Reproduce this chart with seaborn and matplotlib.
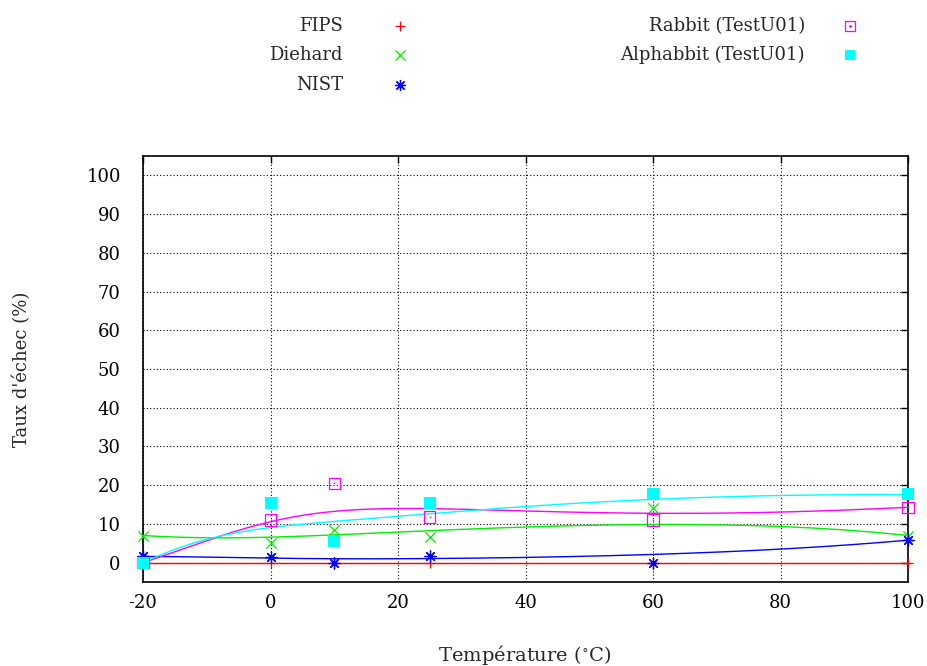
import numpy as np
import pandas as pd
import matplotlib
matplotlib.use("Agg")
import matplotlib.pyplot as plt
import seaborn as sns
from matplotlib.lines import Line2D
from math import comb

temperatures = [-20, 0, 10, 25, 60, 100]
fips = [0, 0, 0, 0, 0, 0]
diehard = [7, 5, 8.3, 6.7, 14, 7]
nist = [1.6, 1.5, 0, 1.8, 0, 5.8]
rabbit = [0, 11, 20.5, 11.8, 11, 14.3]
alphabbit = [0, 15.5, 5.7, 15.5, 17.6, 17.6]

series_names = ["FIPS", "Diehard", "NIST", "Rabbit (TestU01)", "Alphabbit (TestU01)"]
series_values = [fips, diehard, nist, rabbit, alphabbit]
colors = ["#ff0000", "#00ee00", "#0000ff", "#ff00ff", "#00ffff"]

x_ticks = [-20, 0, 20, 40, 60, 80, 100]
y_ticks = [0, 10, 20, 30, 40, 50, 60, 70, 80, 90, 100]

sns.set_style("white")
plt.rcParams['font.family'] = ['DejaVu Serif']
plt.rcParams['mathtext.fontset'] = 'dejavuserif'

fig = plt.figure(figsize=(9.27, 6.66), dpi=100)
ax = fig.add_axes([143/927, 1-582/666, (908-143)/927, (582-156)/666])

def bezier(xs, ys, n=200):
    xs = np.asarray(xs, float); ys = np.asarray(ys, float)
    m = len(xs) - 1
    t = np.linspace(0, 1, n)
    bx = np.zeros_like(t); by = np.zeros_like(t)
    for i in range(m + 1):
        b = comb(m, i) * (1 - t) ** (m - i) * t ** i
        bx += b * xs[i]; by += b * ys[i]
    return bx, by

df = pd.DataFrame({"T": temperatures})
for name, vals in zip(series_names, series_values):
    df[name] = vals

for name, col in zip(series_names, colors):
    bx, by = bezier(df["T"], df[name])
    sns.lineplot(x=bx, y=by, ax=ax, color=col, lw=1.0, sort=False, estimator=None, zorder=3)

sns.scatterplot(data=df, x="T", y="FIPS", ax=ax, marker="+", color=colors[0], linewidth=0.9, s=55, zorder=4)
sns.scatterplot(data=df, x="T", y="Diehard", ax=ax, marker="x", color=colors[1], linewidth=0.9, s=55, zorder=4)
sns.scatterplot(data=df, x="T", y="NIST", ax=ax, marker=(8, 2, 0), color=colors[2], linewidth=0.9, s=65, zorder=4)
sns.scatterplot(data=df, x="T", y="Rabbit (TestU01)", ax=ax, marker="s", facecolor="none", edgecolor=colors[3], linewidth=0.9, s=65, zorder=4)
sns.scatterplot(data=df, x="T", y="Rabbit (TestU01)", ax=ax, marker=".", color=colors[3], linewidth=0, s=5, zorder=4)
sns.scatterplot(data=df, x="T", y="Alphabbit (TestU01)", ax=ax, marker="s", color=colors[4], linewidth=0, s=70, zorder=4)
for coll in ax.collections:
    coll.set_clip_on(False)

ax.set_xlim(-20, 100)
ax.set_ylim(-5, 105)
ax.set_xticks(x_ticks)
ax.set_yticks(y_ticks)
ax.set_xticklabels([str(v) for v in x_ticks])
ax.set_yticklabels([str(v) for v in y_ticks])
ax.grid(True, color="black", linestyle=(0, (1, 2)), linewidth=0.8)
ax.tick_params(direction="in", length=5, width=1, top=True, right=True, labelsize=13, colors="black")
ax.tick_params(axis="y", pad=16)
ax.tick_params(axis="x", pad=9)
for sp in ax.spines.values():
    sp.set_color("black"); sp.set_linewidth(1.2); sp.set_visible(True)
ax.set_xlabel("Température ($^{\\circ}$C)", fontsize=14)
ax.set_ylabel("Taux d'échec (%)", fontsize=13)
ax.xaxis.set_label_coords((525-143)/765, -(655-582)/426)
ax.yaxis.set_label_coords(-(143-22)/765, 0.5)
ax.xaxis.label.set_va("center")
ax.yaxis.label.set_va("center")

# legend (gnuplot style: text right-aligned, marker to the right)
leg_rows = [(series_names[0], 0, 0), (series_names[1], 0, 1), (series_names[2], 0, 2),
            (series_names[3], 1, 0), (series_names[4], 1, 1)]
text_x = [343/927, 805/927]
mark_x = [400/927, 850/927]
row_y = [1-26/666, 1-55/666, 1-85/666]
markers = [dict(marker="+", mfc=colors[0], mec=colors[0], ms=7, mew=0.9),
           dict(marker="x", mfc=colors[1], mec=colors[1], ms=7, mew=0.9),
           dict(marker=(8, 2, 0), mfc=colors[2], mec=colors[2], ms=8, mew=0.9),
           dict(marker="s", mfc="none", mec=colors[3], ms=7, mew=0.9),
           dict(marker="s", mfc=colors[4], mec=colors[4], ms=7, mew=0)]
for (name, c, r), m in zip(leg_rows, markers):
    fig.text(text_x[c], row_y[r], name, ha="right", va="center", fontsize=13)
    fig.add_artist(Line2D([mark_x[c]], [row_y[r]], transform=fig.transFigure, linestyle="none", **m))
    if name.startswith("Rabbit"):
        fig.add_artist(Line2D([mark_x[c]], [row_y[r]], transform=fig.transFigure, linestyle="none",
                              marker=".", ms=2, color=colors[3]))

fig.savefig("out.png", dpi=100)
